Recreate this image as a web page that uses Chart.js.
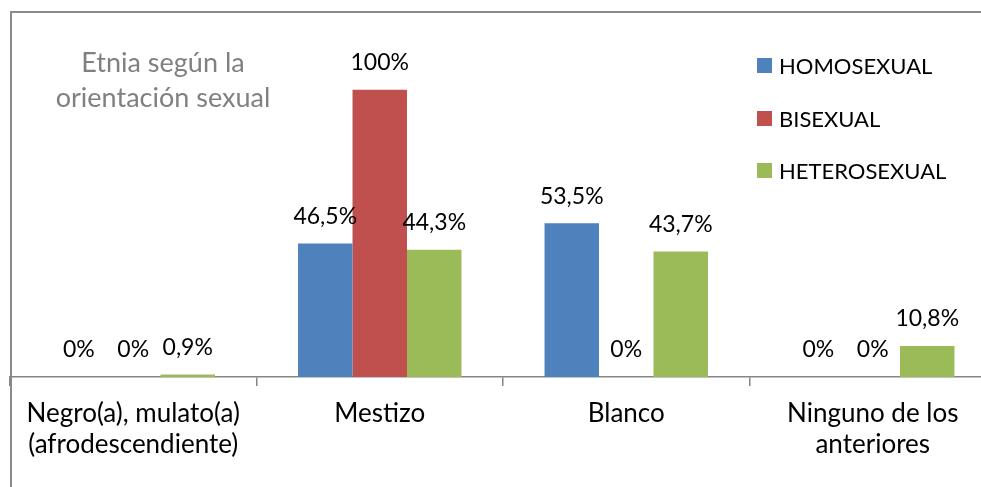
<!DOCTYPE html>
<html>
<head>
<meta charset="utf-8">
<script src="https://cdn.jsdelivr.net/npm/chart.js@4"></script>
<style>
  html, body { margin: 0; overflow: hidden; background: #fff; font-family: Lato, sans-serif; width: 981px; height: 487px; }
  #wrap { position: absolute; left: 0; top: 0; width: 1006px; height: 487px; }
  #title { position: absolute; left: 34px; top: 44px; width: 258px; text-align: center; color: #808080; font-size: 27px; line-height: 35px; }
  #legend { position: absolute; left: 757px; top: 50px; }
  .item { height: 52.5px; display: flex; align-items: flex-start; font-size: 22px; line-height: 32px; color: #000; }
  .box { width: 15px; height: 15px; margin: 8px 7px 0 0; }
</style>
</head>
<body>
<div id="wrap"><canvas id="chart"></canvas></div>
<div id="title">Etnia según la<br>orientación sexual</div>
<div id="legend"></div>
<script>
// Categories and series (percentages)
const categories = [
  ['Negro(a), mulato(a)', '(afrodescendiente)'],
  'Mestizo',
  'Blanco',
  ['Ninguno de los', 'anteriores']
];
const seriesNames = ['HOMOSEXUAL', 'BISEXUAL', 'HETEROSEXUAL'];
const homosexual = [0, 46.5, 53.5, 0];
const bisexual = [0, 100, 0, 0];
const heterosexual = [0.9, 44.3, 43.7, 10.8];
const colors = ['#4F81BD', '#C0504D', '#9BBB59'];

const FONT = 'Lato';
const LABEL_SIZE = 23;
const TICK_SIZE = 26;

// Spanish style: 46,5%  0%
const formatPct = (v) => (Number.isInteger(v) ? String(v) : v.toFixed(1).replace('.', ',')) + '%';

// Outer chart frame (only the top and left edges fall inside the picture)
const frame = {
  id: 'frame',
  beforeDraw(chart) {
    const ctx = chart.ctx;
    ctx.save();
    ctx.strokeStyle = '#8a8a8a';
    ctx.lineWidth = 2;
    ctx.beginPath();
    ctx.moveTo(11, chart.height);
    ctx.lineTo(11, 12);
    ctx.lineTo(chart.width, 12);
    ctx.stroke();
    ctx.restore();
  }
};

// Draw value labels above each bar
const valueLabels = {
  id: 'valueLabels',
  afterDatasetsDraw(chart) {
    const ctx = chart.ctx;
    ctx.save();
    ctx.font = `${LABEL_SIZE}px ${FONT}`;
    ctx.fillStyle = '#000';
    ctx.textAlign = 'center';
    ctx.textBaseline = 'middle';
    chart.data.datasets.forEach((ds, i) => {
      chart.getDatasetMeta(i).data.forEach((bar, j) => {
        ctx.fillText(formatPct(ds.data[j]), bar.x, bar.y - 27);
      });
    });
    ctx.restore();
  }
};

const chart = new Chart(document.getElementById('chart'), {
  type: 'bar',
  data: {
    labels: categories,
    datasets: [homosexual, bisexual, heterosexual].map((data, i) => ({
      label: seriesNames[i],
      data,
      backgroundColor: colors[i],
      borderWidth: 0,
      categoryPercentage: 0.663,
      barPercentage: 1
    }))
  },
  options: {
    responsive: true,
    maintainAspectRatio: false,
    animation: false,
    layout: { padding: { left: 10, right: 10, top: 18, bottom: 0 } },
    plugins: {
      legend: { display: false },
      tooltip: { enabled: false }
    },
    scales: {
      y: { display: false, min: 0, max: 125 },
      x: {
        afterFit: (scale) => { scale.height = 110; },
        grid: { display: true, drawOnChartArea: false, drawTicks: true, tickLength: 9, color: '#868686', lineWidth: 1.5 },
        border: { display: true, color: '#868686', width: 1.5 },
        ticks: { color: '#000', font: { family: FONT, size: TICK_SIZE, lineHeight: 1.2 }, padding: 12, maxRotation: 0 }
      }
    }
  },
  plugins: [frame, valueLabels]
});

// HTML legend built from the datasets
const legendEl = document.getElementById('legend');
chart.data.datasets.forEach(ds => {
  const item = document.createElement('div');
  item.className = 'item';
  item.innerHTML = `<span class="box" style="background:${ds.backgroundColor}"></span><span>${ds.label}</span>`;
  legendEl.appendChild(item);
});
</script>
</body>
</html>
